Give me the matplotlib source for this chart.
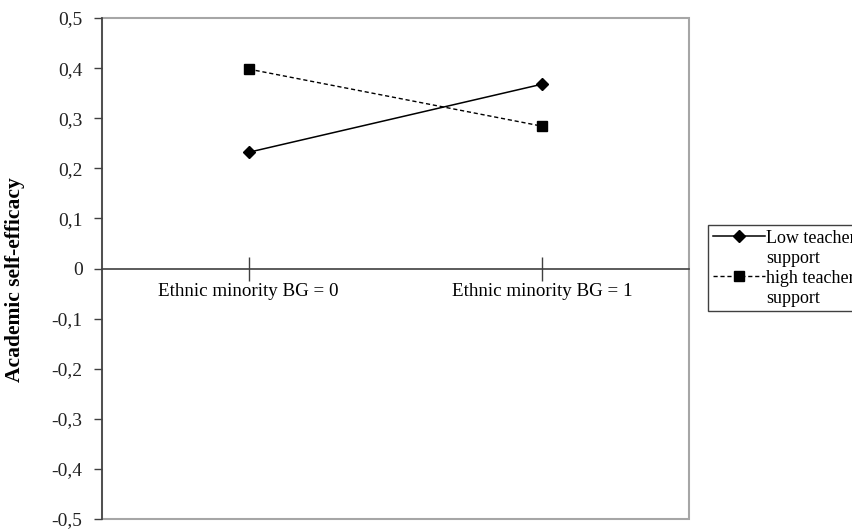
import matplotlib
matplotlib.use('Agg')
import matplotlib.pyplot as plt
from matplotlib.patches import Rectangle
from matplotlib.lines import Line2D

plt.rcParams['font.family'] = ['Liberation Serif', 'DejaVu Serif']

# data
categories = ['Ethnic minority BG = 0', 'Ethnic minority BG = 1']
low_support = [0.232, 0.368]
high_support = [0.398, 0.284]
y_ticks = [-0.5, -0.4, -0.3, -0.2, -0.1, 0, 0.1, 0.2, 0.3, 0.4, 0.5]
y_ticklabels = ['-0,5', '-0,4', '-0,3', '-0,2', '-0,1', '0', '0,1', '0,2', '0,3', '0,4', '0,5']

fig = plt.figure(figsize=(8.52, 5.29), dpi=100)
ax = fig.add_axes([102 / 852, 1 - 519 / 529, 587 / 852, 501 / 529])

xpos = list(range(len(categories)))
l1, = ax.plot(xpos, low_support, color='black', lw=1.1, marker='D', ms=6.5, zorder=4)
l2, = ax.plot(xpos, high_support, color='black', lw=1.0, ls=(0, (3, 2)),
              marker='s', ms=7, zorder=4)

ax.set_xlim(-0.5, len(categories) - 0.5)
ax.set_ylim(-0.5, 0.5)

# grey plot-area frame
ax.add_patch(Rectangle((0, 0), 1, 1, transform=ax.transAxes, fill=False,
                       edgecolor='#a6a6a6', lw=1.5, zorder=1, clip_on=False))
for s in ['top', 'right']:
  ax.spines[s].set_visible(False)
ax.spines['left'].set_color('#404040')
ax.spines['left'].set_linewidth(1.2)
ax.spines['left'].set_zorder(3)
ax.spines['bottom'].set_position(('data', 0))
ax.spines['bottom'].set_color('#404040')
ax.spines['bottom'].set_linewidth(1.2)

ax.set_xticks(xpos)
ax.set_xticklabels(categories, fontsize=13.7)
ax.tick_params(axis='x', direction='inout', length=17, width=1.0, color='#404040', pad=2)

ax.set_yticks(y_ticks)
ax.set_yticklabels(y_ticklabels, fontsize=14, color='#222222')
ax.tick_params(axis='y', direction='out', length=6, width=1.0, color='#404040', pad=8)

ax.set_ylabel('Academic self-efficacy', fontsize=15.5, fontweight='bold')
ax.yaxis.set_label_coords(-0.131, 0.477)

blank = Line2D([], [], color='none')
fig.legend([l1, blank, l2, blank],
           ['Low teacher', 'support', 'high teacher', 'support'],
           loc='upper left', bbox_to_anchor=(708 / 852, 1 - 225 / 529),
           frameon=True, fancybox=False, edgecolor='#404040', framealpha=1,
           fontsize=13, handlelength=2.9, handletextpad=0.05, labelspacing=0.17,
           borderpad=0.25, borderaxespad=0)

fig.savefig('out.png', dpi=100)
